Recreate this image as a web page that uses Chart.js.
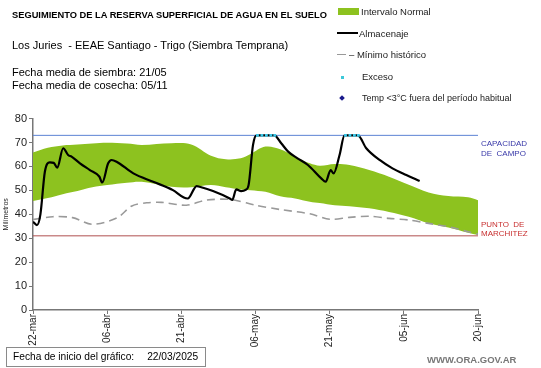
<!DOCTYPE html>
<html>
<head>
<meta charset="utf-8">
<script src="https://cdn.jsdelivr.net/npm/chart.js@4.4.1/dist/chart.umd.min.js"></script>
<style>
  body { margin: 0; background: #fff; font-family: "Liberation Sans", Arial, sans-serif; }
  #wrap { position: relative; width: 541px; height: 368px; overflow: hidden; }
  #c { position: absolute; left: 0; top: 0; }
  .t { position: absolute; white-space: nowrap; color: #000; line-height: 1; }
  .lg { font-size: 9.5px; color: #222; }
  .sw { position: absolute; }
</style>
</head>
<body>
<div id="wrap">
  <canvas id="c" width="541" height="368"></canvas>

  <div class="t" style="left:12px;top:11px;font-weight:bold;font-size:9.3px;">SEGUIMIENTO DE LA RESERVA SUPERFICIAL DE AGUA EN EL SUELO</div>
  <div class="t" style="left:12px;top:40px;font-size:11px;">Los Juries&nbsp; - EEAE Santiago - Trigo (Siembra Temprana)</div>
  <div class="t" style="left:12px;top:67px;font-size:11px;">Fecha media de siembra: 21/05</div>
  <div class="t" style="left:12px;top:80px;font-size:11px;">Fecha media de cosecha: 05/11</div>

  <!-- leyenda -->
  <div class="sw" style="left:338px;top:8px;width:21px;height:7px;background:#8dc21f;"></div>
  <div class="t lg" style="left:361px;top:7px;">Intervalo Normal</div>
  <div class="sw" style="left:337px;top:32px;width:21px;height:2px;background:#000;"></div>
  <div class="t lg" style="left:359px;top:29px;">Almacenaje</div>
  <div class="sw" style="left:337px;top:54px;width:9px;height:1px;background:#999;"></div>
  <div class="t lg" style="left:349px;top:50px;">– Mínimo histórico</div>
  <div class="sw" style="left:341px;top:76px;width:3px;height:3px;background:#3cc8d8;"></div>
  <div class="t lg" style="left:362px;top:72px;">Exceso</div>
  <div class="sw" style="left:340px;top:96px;width:4px;height:4px;background:#1a1a8c;transform:rotate(45deg);"></div>
  <div class="t lg" style="left:362px;top:94px;font-size:9px;">Temp &lt;3°C fuera del período habitual</div>

  <!-- etiquetas derecha -->
  <div class="t" style="left:481px;top:139px;font-size:8px;color:#3838a8;line-height:10px;">CAPACIDAD<br>DE&nbsp; CAMPO</div>
  <div class="t" style="left:481px;top:220px;font-size:8px;color:#c83030;line-height:9px;">PUNTO&nbsp; DE<br>MARCHITEZ</div>

  <!-- pie -->
  <div class="t" style="left:6px;top:347px;width:198px;height:18px;border:1px solid #8a8a8a;font-size:10.2px;line-height:18px;">
    <span style="margin-left:6px;">Fecha de inicio del gráfico:</span><span style="margin-left:13px;">22/03/2025</span>
  </div>
  <div class="t" style="left:427px;top:355px;font-size:9.5px;font-weight:bold;color:#777;">WWW.ORA.GOV.AR</div>
</div>

<script>
// eje x en días desde 22-mar
const fechas = ["22-mar", "06-abr", "21-abr", "06-may", "21-may", "05-jun", "20-jun"];

const capacidadCampo = 73;
const puntoMarchitez = 31;

// intervalo normal (banda verde)
const bandaDias = [0, 3, 6, 9, 12, 15, 19, 22, 28, 32, 36, 39, 42, 44, 47, 50, 53, 56, 58, 61, 64, 68, 72, 76, 80, 84, 88, 90];
const bandaSup = [65.8, 67.8, 68.8, 69.2, 69.6, 69.9, 69.6, 69.0, 69.7, 69.2, 64.5, 63.0, 63.4, 65.2, 68.3, 67.2, 64.1, 61.3, 60.3, 61.0, 60.6, 58.5, 55.7, 52.3, 49.1, 47.6, 47.1, 45.9];
const bandaInf = [45.6, 46.8, 48.4, 49.7, 51.3, 52.2, 53.2, 53.6, 51.5, 51.3, 52.2, 51.3, 50.4, 50.1, 49.4, 47.5, 46.6, 45.2, 44.7, 43.8, 43.4, 42.5, 41.0, 39.0, 36.3, 34.5, 32.3, 31.3];

// mínimo histórico
const minimoDias = [0, 4, 8, 12, 17, 20, 23, 26, 31, 35, 40, 45, 50, 56, 60, 64, 68, 72, 76, 80, 84, 88, 90];
const minimoVal = [37.8, 39.0, 38.6, 35.8, 38.5, 43.5, 44.8, 45.0, 43.8, 45.9, 46.2, 43.8, 42.0, 40.2, 37.9, 38.7, 39.2, 38.3, 37.6, 36.2, 34.8, 32.7, 31.7];

// almacenaje
const almDias = [0, 0.8, 1.5, 2.4, 3.4, 4.2, 4.9, 6.1, 7.1, 7.8, 9.5, 11.5, 13.4, 14.0, 15.2, 15.9, 16.9, 20.3, 24.3, 28.3, 30.5, 31.3, 33.1, 33.7, 36.4, 39.8, 40.3, 41.1, 42.1, 43.0, 43.6, 44.5, 45.2, 48.8, 50.2, 51.6, 53.5, 55.6, 58.3, 59.2, 60.2, 60.8, 62.0, 63.0, 65.7, 67.4, 70.1, 72.7, 75.5, 78.2];
const almVal = [36.9, 35.5, 40.0, 57.8, 61.7, 61.5, 59.5, 67.6, 64.8, 64.1, 61.3, 58.5, 55.8, 53.3, 61.3, 62.7, 62.0, 57.1, 53.6, 50.1, 47.0, 46.6, 51.8, 51.5, 49.7, 46.6, 46.0, 50.4, 49.7, 50.2, 52.2, 69.0, 73.0, 73.0, 69.7, 66.2, 63.4, 60.6, 55.0, 53.6, 58.5, 57.1, 64.8, 73.0, 73.0, 67.6, 62.7, 59.2, 56.4, 53.9];

// exceso
const excesoDias = [45.4, 46.3, 47.2, 48.1, 48.9, 63.2, 64.1, 65.0, 65.8];
const excesoVal = [73, 73, 73, 73, 73, 73, 73, 73, 73];

const pts = (xs, ys) => xs.map((x, i) => ({ x: x, y: ys[i] }));

const ctx = document.getElementById("c").getContext("2d");
new Chart(ctx, {
  type: "line",
  data: {
    datasets: [
      {
        label: "Exceso",
        data: pts(excesoDias, excesoVal),
        showLine: false,
        pointStyle: "rect",
        pointRadius: 2,
        pointBackgroundColor: "#3cc8e8",
        pointBorderWidth: 0,
        order: 1,
      },
      {
        label: "Almacenaje",
        data: pts(almDias, almVal),
        borderColor: "#000",
        borderWidth: 2.2,
        pointRadius: 0,
        cubicInterpolationMode: "monotone",
        order: 2,
      },
      {
        label: "Mínimo histórico",
        data: pts(minimoDias, minimoVal),
        borderColor: "#9a9a9a",
        borderWidth: 1.6,
        borderDash: [8, 5],
        pointRadius: 0,
        tension: 0.3,
        order: 4,
      },
      {
        label: "Capacidad de campo",
        data: [{ x: 0, y: capacidadCampo }, { x: 90, y: capacidadCampo }],
        borderColor: "#5b82d4",
        borderWidth: 1,
        pointRadius: 0,
        order: 5,
      },
      {
        label: "Punto de marchitez",
        data: [{ x: 0, y: puntoMarchitez }, { x: 90, y: puntoMarchitez }],
        borderColor: "#b05050",
        borderWidth: 1,
        pointRadius: 0,
        order: 5,
      },
      {
        label: "Intervalo Normal",
        data: pts(bandaDias, bandaSup),
        borderWidth: 0,
        borderColor: "#8dc21f",
        backgroundColor: "#8dc21f",
        pointRadius: 0,
        tension: 0.35,
        fill: { target: 6 },
        order: 8,
      },
      {
        label: "inf",
        data: pts(bandaDias, bandaInf),
        borderWidth: 0,
        borderColor: "#8dc21f",
        pointRadius: 0,
        tension: 0.35,
        fill: false,
        order: 9,
      },
    ],
  },
  options: {
    responsive: false,
    animation: false,
    layout: { padding: { top: 118.6, right: 63, bottom: 18, left: 0 } },
    plugins: { legend: { display: false }, tooltip: { enabled: false } },
    scales: {
      x: {
        type: "linear",
        min: 0,
        max: 90,
        afterFit: (s) => { s.height = 40; },
        ticks: {
          stepSize: 15,
          autoSkip: false,
          maxRotation: 90,
          minRotation: 90,
          padding: 0,
          color: "#222",
          font: { family: "Liberation Sans, Arial", size: 10 },
          callback: (v) => fechas[v / 15],
        },
        grid: { drawOnChartArea: false, tickLength: 4, color: "#777" },
        border: { color: "#777", width: 1.5 },
      },
      y: {
        min: 0,
        max: 80,
        afterFit: (s) => { s.width = 33; },
        ticks: {
          stepSize: 10,
          padding: 2,
          color: "#222",
          font: { family: "Liberation Sans, Arial", size: 11 },
        },
        title: {
          display: true,
          text: "Milímetros",
          color: "#222",
          padding: { top: 2, bottom: 0 },
          font: { family: "Liberation Sans, Arial", size: 7 },
        },
        grid: { drawOnChartArea: false, tickLength: 4, color: "#777" },
        border: { color: "#777", width: 1.5 },
      },
    },
  },
});
</script>
</body>
</html>
